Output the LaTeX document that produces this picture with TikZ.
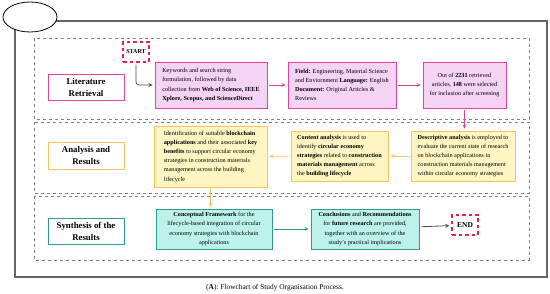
\documentclass[tikz,border=0pt]{standalone}
\usepackage{fontspec}
\setmainfont{Liberation Serif}
\usepackage{xcolor}
\usepackage{tikz}
\usetikzlibrary{calc, positioning}

\definecolor{pinkline}{HTML}{E8409A}
\definecolor{pinkfill}{HTML}{F4D3F5}
\definecolor{yelline}{HTML}{FFC15E}
\definecolor{yelfill}{HTML}{FFF5C2}
\definecolor{tealline}{HTML}{2A9D8F}
\definecolor{tealfill}{HTML}{BDF2EA}
\definecolor{startred}{HTML}{E8204A}

\begin{document}
\begin{tikzpicture}[x=1pt, y=-1pt, >=stealth,
    stage/.style={draw, line width=0.9pt, fill=white, minimum height=26pt, minimum width=76pt, align=center, font=\fontsize{8.8}{12}\selectfont\bfseries},
    task/.style={draw, line width=0.9pt, inner sep=3pt, font=\fontsize{6.2}{9.2}\selectfont},
    term/.style={draw=startred, dash pattern=on 3.5pt off 3pt, line width=1.5pt, minimum width=26pt, minimum height=20pt, inner sep=1pt, font=\fontsize{6}{8}\selectfont\bfseries},
    panel/.style={draw=gray, dashed, line width=0.6pt},
    link/.style={->, line width=0.8pt, shorten >=2pt, shorten <=2pt}]
  \useasboundingbox (0,0) rectangle (550,294);

  % frame and panels
  \draw[gray!80!black, line width=1.1pt] (15,21) rectangle (547,277);
  \draw[line width=0.8pt, fill=white] (30,17) ellipse [x radius=27pt, y radius=15pt];
  \draw[panel] (34,38) rectangle (529,119);
  \draw[panel] (34,122) rectangle (529,193);
  \draw[panel] (34,196) rectangle (529,260);

  % stage labels
  \node[stage, draw=pinkline] (lit) at (86,87) {Literature\\Retrieval};
  \node[stage, draw=yelline, minimum height=27pt] (ana) at (86,155.5) {Analysis and\\Results};
  \node[stage, draw=tealline] (syn) at (86,231) {Synthesis of the\\Results};

  % retrieval
  \node[term] (start) at (136,52) {START};
  \node[task, draw=pinkline, fill=pinkfill, minimum width=112pt, minimum height=46pt, align=left] (t1) at (211,85)
    {Keywords and search string\\formulation, followed by data\\collection from \textbf{Web of Science, IEEE}\\\textbf{Xplore, Scopus, and ScienceDirect}};
  \node[task, draw=pinkline, fill=pinkfill, minimum width=108pt, minimum height=46pt, align=left] (t2) at (342,85)
    {\textbf{Field:} Engineering, Material Science\\and Enviornment \textbf{Language:} English\\\textbf{Document:} Original Articles \&\\Reviews};
  \node[task, draw=pinkline, fill=pinkfill, minimum width=83pt, minimum height=46pt, align=center] (t3) at (464.5,85)
    {Out of \textbf{2231} retrieved\\articles, \textbf{148} were selected\\for inclusion after screening};

  % analysis
  \node[task, draw=yelline, fill=yelfill, minimum width=104pt, minimum height=50pt, align=left] (t4) at (463,156)
    {\textbf{Descriptive analysis} is employed to\\evaluate the current state of research\\on blockchain applications in\\construction materials management\\within circular economy strategies};
  \node[task, draw=yelline, fill=yelfill, minimum width=97pt, minimum height=50pt, align=left] (t5) at (339.5,156)
    {\textbf{Content analysis} is used to\\identify \textbf{circular economy}\\\textbf{strategies} related to \textbf{construction}\\\textbf{materials management} across\\the \textbf{building lifecycle}};
  \node[task, draw=yelline, fill=yelfill, minimum width=113pt, minimum height=61pt, align=left] (t6) at (210.5,156.5)
    {Identification of suitable \textbf{blockchain}\\\textbf{applications} and their associated \textbf{key}\\\textbf{benefits} to support circular economy\\strategies in construction materials\\management across the building\\lifecycle};

  % synthesis
  \node[task, draw=tealline, fill=tealfill, minimum width=116pt, minimum height=40pt, align=center] (t7) at (214,229)
    {\textbf{Conceptual Framework} for the\\lifecycle-based integration of circular\\economy strategies with blockchain\\applications};
  \node[task, draw=tealline, fill=tealfill, minimum width=108pt, minimum height=40pt, align=center] (t8) at (365,229)
    {\textbf{Conclusions} and \textbf{Recommendations}\\for \textbf{future research} are provided,\\together with an overview of the\\study's practical implications};
  \node[term] (end) at (465,225) {\fontsize{7.5}{9}\selectfont END};

  % connectors
  \draw[link, gray!60!black, rounded corners=3pt] (start.south) |- (t1.west);
  \draw[link, pinkline] (t1) -- (t2);
  \draw[link, pinkline] (t2) -- (t3);
  \draw[link, pinkline] (t3.south) -- (t3.south |- t4.north);
  \draw[link, yelline] (t4) -- (t5);
  \draw[link, yelline] (t5) -- (t6);
  \draw[link, yelline] (t6.south) -- (t6.south |- t7.north);
  \draw[link, tealline] (t7) -- (t8);
  \draw[link, gray!60!black] (t8) -- (end);

  \node[font=\fontsize{7.4}{8}\selectfont] (cap) at (275,288) {(\textbf{A}): Flowchart of Study Organisation Process.};
\end{tikzpicture}
\end{document}
